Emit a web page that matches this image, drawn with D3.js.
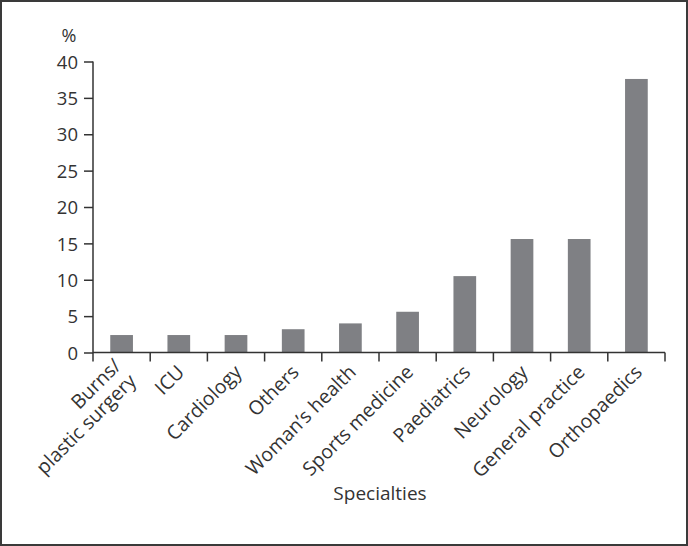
<!DOCTYPE html>
<html><head><meta charset="utf-8">
<script src="https://cdn.jsdelivr.net/npm/d3@7"></script>
<style>body{margin:0;background:#fff}svg{display:block}</style>
</head><body>
<script>
const categories = [["Burns/","plastic surgery"],["ICU"],["Cardiology"],["Others"],["Woman’s health"],["Sports medicine"],["Paediatrics"],["Neurology"],["General practice"],["Orthopaedics"]];
const values = [2.4, 2.4, 2.4, 3.2, 4.0, 5.6, 10.5, 15.6, 15.6, 37.6];
const yTicks = [0, 5, 10, 15, 20, 25, 30, 35, 40];
const yUnit = "%";
const xTitle = "Specialties";

const W = 688, H = 546;
const m = {left: 93, right: 23, top: 61.5, bottom: 193.5};
const font = "'Open Sans', 'Noto Sans', sans-serif";
const ink = "#333";
const svg = d3.select("body").append("svg").attr("width", W).attr("height", H);
svg.append("rect").attr("x",1).attr("y",1).attr("width",W-2).attr("height",H-2)
  .attr("fill","#fff").attr("stroke","#3a3a3a").attr("stroke-width",2);

const xb = d3.scaleBand().domain(d3.range(categories.length)).range([m.left, W - m.right]);
const y = d3.scaleLinear().domain([0, 40]).range([H - m.bottom, m.top]);
const y0 = y(0);
const barW = 22.7;

svg.append("g").selectAll("rect").data(values).join("rect")
  .attr("x", (d,i) => xb(i) + (xb.bandwidth() - barW)/2)
  .attr("width", barW)
  .attr("y", d => y(d)).attr("height", d => y0 - y(d))
  .attr("fill", "#7f8084");

// y axis
const yAxis = svg.append("g").attr("transform", `translate(${m.left},0)`)
  .call(d3.axisLeft(y).tickValues(yTicks).tickSize(9).tickPadding(6));
yAxis.select(".domain").remove();
yAxis.selectAll("line").attr("stroke", ink).attr("stroke-width", 1.5);
yAxis.selectAll("text").attr("font-family", font).attr("font-size", 18.5).attr("fill", ink).attr("dy","0.36em");
svg.append("line").attr("x1", m.left).attr("x2", m.left).attr("y1", y(40)).attr("y2", y0 + 9)
  .attr("stroke", ink).attr("stroke-width", 1.5);

// x axis line and ticks at band boundaries
svg.append("line").attr("x1", m.left).attr("x2", W - m.right).attr("y1", y0).attr("y2", y0)
  .attr("stroke", ink).attr("stroke-width", 1.5);
const bounds = d3.range(1, categories.length + 1).map(i => xb(i - 1) + xb.bandwidth());
svg.append("g").selectAll("line").data(bounds).join("line")
  .attr("x1", d => d).attr("x2", d => d).attr("y1", y0).attr("y2", y0 + 9)
  .attr("stroke", ink).attr("stroke-width", 1.5);

// x labels
const lab = svg.append("g").selectAll("text").data(categories).join("text")
  .attr("transform", (d,i) => `translate(${xb(i) + xb.bandwidth()/2 + 2},${y0 + 16}) rotate(-45)`)
  .attr("text-anchor", "end").attr("font-family", font).attr("font-size", 19.5).attr("fill", ink);
lab.each(function(d){
  const t = d3.select(this);
  d.forEach((s, k) => t.append("tspan").attr("x", 0).attr("dy", k === 0 ? (d.length>1 ? "-0.1em" : "0.35em") : "1.1em").text(s));
});

svg.append("text").attr("x", 69).attr("y", 42).attr("text-anchor","middle")
  .attr("font-family", font).attr("font-size", 18).attr("fill", ink).text(yUnit);
svg.append("text").attr("x", 380).attr("y", 500).attr("text-anchor","middle")
  .attr("font-family", font).attr("font-size", 19).attr("fill", ink).text(xTitle);
</script>
</body></html>
